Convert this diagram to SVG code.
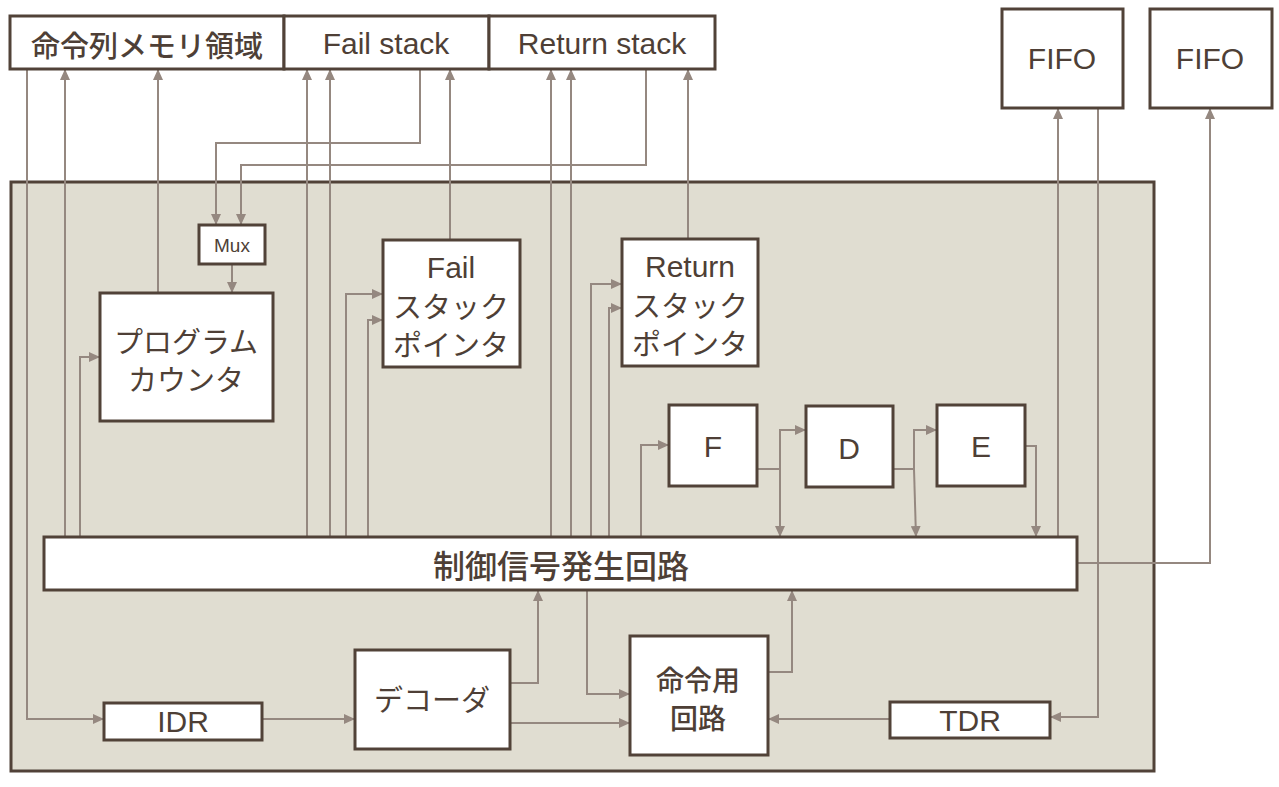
<svg xmlns="http://www.w3.org/2000/svg" width="1279" height="787" viewBox="0 0 1279 787">
<defs>
<style>
.box{fill:#fff;stroke:#514238;stroke-width:3}
.cont{fill:#e0ddd1;stroke:#514238;stroke-width:3}
.c{fill:none;stroke:#958880;stroke-width:2}
.a{marker-end:url(#ah)}
.t{font-family:"Liberation Sans",Arial,sans-serif;font-size:30px;fill:#4e3f36;text-anchor:middle;dominant-baseline:central}
.j{font-family:"Noto Sans CJK JP","Noto Sans",sans-serif;font-size:29px;fill:#4e3f36;text-anchor:middle;dominant-baseline:central}
.b{font-weight:500}
</style>
<marker id="ah" markerUnits="userSpaceOnUse" markerWidth="12" markerHeight="10" refX="11" refY="5" orient="auto">
<path d="M0,0 L11,5 L0,10 z" fill="#958880"/>
</marker>
</defs>
<rect width="1279" height="787" fill="#fff"/>
<g id="container"><rect class="cont" x="11" y="182" width="1143" height="589"/></g>

<g id="connectors">
<path class="c a" d="M27,69 V719 H104"/>
<path class="c a" d="M65,537 V69"/>
<path class="c a" d="M80,537 V357 H100"/>
<path class="c a" d="M158,293 V69"/>
<path class="c a" d="M420,69 V143 H216 V225"/>
<path class="c a" d="M646,69 V165 H241 V225"/>
<path class="c a" d="M232,264 V293"/>
<path class="c a" d="M307,537 V69"/>
<path class="c a" d="M330,537 V69"/>
<path class="c a" d="M346,537 V294 H383"/>
<path class="c a" d="M368,537 V320 H383"/>
<path class="c a" d="M450,240 V69"/>
<path class="c a" d="M551,537 V69"/>
<path class="c a" d="M571,537 V69"/>
<path class="c a" d="M591,537 V284 H622"/>
<path class="c a" d="M609,537 V308 H622"/>
<path class="c a" d="M688,239 V69"/>
<path class="c a" d="M641,537 V445 H669"/>
<path class="c" d="M757,469 H780"/>
<path class="c a" d="M780,469 V537"/>
<path class="c a" d="M780,469 V430 H806"/>
<path class="c" d="M893,469 H914"/>
<path class="c a" d="M914,469 L916,537"/>
<path class="c a" d="M914,469 V430 H937"/>
<path class="c a" d="M1025,446 H1036 V537"/>
<path class="c a" d="M1058,537 V108"/>
<path class="c a" d="M1098,108 V717 H1050"/>
<path class="c a" d="M1077,563 H1210 V108"/>
<path class="c a" d="M262,719 H355"/>
<path class="c a" d="M510,683 H538 V590"/>
<path class="c a" d="M510,723 H630"/>
<path class="c a" d="M587,590 V694 H630"/>
<path class="c a" d="M768,672 H792 V590"/>
<path class="c a" d="M890,719 H768"/>
</g>

<g id="top-memory">
<rect class="box" x="10" y="16" width="274" height="53"/>
<text class="j b" x="147" y="44">命令列メモリ領域</text>
</g>
<g id="fail-stack">
<rect class="box" x="284" y="16" width="205" height="53"/>
<text class="t" x="386" y="43">Fail stack</text>
</g>
<g id="return-stack">
<rect class="box" x="489" y="16" width="226" height="53"/>
<text class="t" x="602" y="43">Return stack</text>
</g>
<g id="fifo1">
<rect class="box" x="1002" y="9" width="121" height="99"/>
<text class="t" x="1062" y="58">FIFO</text>
</g>
<g id="fifo2">
<rect class="box" x="1150" y="9" width="122" height="99"/>
<text class="t" x="1210" y="58">FIFO</text>
</g>
<g id="mux">
<rect class="box" x="199" y="225" width="66" height="39"/>
<text class="t" x="232" y="245" style="font-size:19px">Mux</text>
</g>
<g id="program-counter">
<rect class="box" x="100" y="293" width="173" height="128"/>
<text class="j" x="186" y="340">プログラム</text>
<text class="j" x="186" y="378">カウンタ</text>
</g>
<g id="fail-sp">
<rect class="box" x="383" y="240" width="137" height="127"/>
<text class="t" x="451" y="267">Fail</text>
<text class="j" x="451" y="305">スタック</text>
<text class="j" x="451" y="343">ポインタ</text>
</g>
<g id="return-sp">
<rect class="box" x="622" y="239" width="136" height="127"/>
<text class="t" x="690" y="266">Return</text>
<text class="j" x="690" y="304">スタック</text>
<text class="j" x="690" y="342">ポインタ</text>
</g>
<g id="F">
<rect class="box" x="669" y="405" width="88" height="81"/>
<text class="t" x="713" y="446">F</text>
</g>
<g id="D">
<rect class="box" x="806" y="406" width="87" height="81"/>
<text class="t" x="849" y="448">D</text>
</g>
<g id="E">
<rect class="box" x="937" y="405" width="88" height="81"/>
<text class="t" x="981" y="446">E</text>
</g>
<g id="control">
<rect class="box" x="44" y="537" width="1033" height="53"/>
<text class="j b" x="561" y="564" style="font-size:32px">制御信号発生回路</text>
</g>
<g id="IDR">
<rect class="box" x="104" y="703" width="158" height="37"/>
<text class="t" x="183" y="721">IDR</text>
</g>
<g id="decoder">
<rect class="box" x="355" y="650" width="155" height="99"/>
<text class="j" x="432" y="698">デコーダ</text>
</g>
<g id="instr-circuit">
<rect class="box" x="630" y="636" width="138" height="119"/>
<text class="j b" x="698" y="679" style="font-size:28px">命令用</text>
<text class="j b" x="698" y="717" style="font-size:28px">回路</text>
</g>
<g id="TDR">
<rect class="box" x="890" y="702" width="160" height="36"/>
<text class="t" x="970" y="720">TDR</text>
</g>
</svg>
